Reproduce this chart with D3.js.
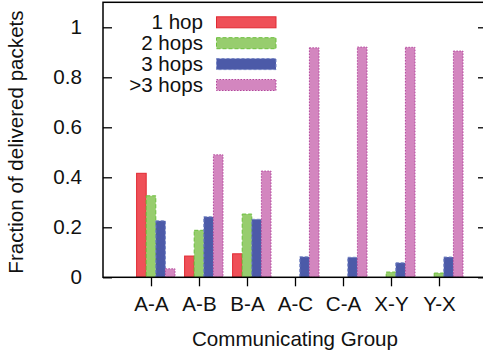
<!DOCTYPE html>
<html>
<head>
<meta charset="utf-8">
<script src="https://cdn.jsdelivr.net/npm/d3@7"></script>
<style>
  html, body { margin: 0; padding: 0; background: #fff; }
  svg { display: block; }
  text { font-family: "Liberation Sans", Arial, Helvetica, sans-serif; fill: #111; }
</style>
</head>
<body>
<svg id="chart" width="483" height="354"></svg>
<script>
// Communicating groups and fraction of delivered packets per hop count
const groups = ["A-A", "A-B", "B-A", "A-C", "C-A", "X-Y", "Y-X"];
const seriesNames = ["1 hop", "2 hops", "3 hops", ">3 hops"];
const oneHop   = [0.416, 0.085, 0.094, 0, 0, 0, 0];
const twoHops  = [0.326, 0.188, 0.253, 0, 0, 0.021, 0.017];
const threeHops = [0.226, 0.242, 0.232, 0.082, 0.080, 0.058, 0.081];
const moreHops = [0.034, 0.490, 0.425, 0.918, 0.921, 0.920, 0.905];
const yTicks = [0, 0.2, 0.4, 0.6, 0.8, 1];

const seriesValues = [oneHop, twoHops, threeHops, moreHops];
const fills   = ["#ef5058", "#97cd6e", "#4c5aa8", "#d386bf"];
const strokes = ["#e02a33", "#6cbf3c", "#7383c4", "#b3489c"];
const dashes  = [null, "4,2", "3,2", "1.5,1.5"];
const fontSize = "20.6px";

const svg = d3.select("#chart");
const plotLeft = 103, plotRight = 487, plotTop = 2.3, plotBottom = 277.3;

const x = d3.scaleLinear().domain([0, groups.length + 1]).range([plotLeft, plotRight]);
const y = d3.scaleLinear().domain([0, 1.1]).range([plotBottom, plotTop]);
const barW = 0.2;

// bars: four per group, second bar centred on the group tick
seriesValues.forEach((vals, j) => {
  svg.append("g").selectAll("rect")
    .data(vals.map((v, i) => ({ v, i })).filter(d => d.v > 0))
    .join("rect")
    .attr("x", d => x(d.i + 1 + (j - 1) * barW - barW / 2))
    .attr("width", x(barW) - x(0))
    .attr("y", d => y(d.v))
    .attr("height", d => y(0) - y(d.v))
    .attr("fill", fills[j])
    .attr("stroke", strokes[j])
    .attr("stroke-width", 1)
    .attr("stroke-dasharray", dashes[j]);
});

// frame
svg.append("rect")
  .attr("x", plotLeft).attr("y", plotTop)
  .attr("width", plotRight - plotLeft).attr("height", plotBottom - plotTop)
  .attr("fill", "none").attr("stroke", "#000").attr("stroke-width", 1.5);

// y axis (ticks inward) and mirrored ticks on the right
const yAxis = d3.axisLeft(y).tickValues(yTicks).tickSize(-9).tickPadding(21)
  .tickFormat(d => d3.format("")(d));
const gy = svg.append("g").attr("transform", `translate(${plotLeft},0)`).call(yAxis);
gy.select(".domain").remove();
gy.selectAll(".tick line").attr("stroke", "#000").attr("stroke-width", 1.3);
gy.selectAll(".tick text").style("font-size", fontSize).attr("fill", "#111");

const gyr = svg.append("g").attr("transform", `translate(${plotRight},0)`)
  .call(d3.axisRight(y).tickValues(yTicks).tickSize(-9).tickFormat(""));
gyr.select(".domain").remove();
gyr.selectAll(".tick line").attr("stroke", "#000").attr("stroke-width", 1.3);

// x axis with category labels
const gx = svg.append("g").attr("transform", `translate(0,${plotBottom})`)
  .call(d3.axisBottom(x).tickValues(d3.range(1, groups.length + 1)).tickSize(9).tickPadding(10)
    .tickFormat(d => groups[d - 1]));
gx.select(".domain").remove();
gx.selectAll(".tick line").attr("stroke", "#000").attr("stroke-width", 1.3);
gx.selectAll(".tick text").style("font-size", fontSize).attr("fill", "#111");

// axis titles
svg.append("text")
  .attr("x", (plotLeft + plotRight) / 2).attr("y", 346)
  .attr("text-anchor", "middle").style("font-size", fontSize)
  .text("Communicating Group");

svg.append("text")
  .attr("transform", "translate(23,142) rotate(-90)")
  .attr("text-anchor", "middle").style("font-size", fontSize)
  .text("Fraction of delivered packets");

// legend
const legend = svg.append("g");
seriesNames.forEach((name, j) => {
  const cy = 22.3 + j * 20.9;
  legend.append("text")
    .attr("x", 203).attr("y", cy + 7)
    .attr("text-anchor", "end").style("font-size", fontSize)
    .text(name);
  legend.append("rect")
    .attr("x", 216.5).attr("y", cy - 5.5)
    .attr("width", 59.5).attr("height", 11)
    .attr("fill", fills[j]).attr("stroke", strokes[j])
    .attr("stroke-width", 1).attr("stroke-dasharray", dashes[j]);
});
</script>
</body>
</html>
